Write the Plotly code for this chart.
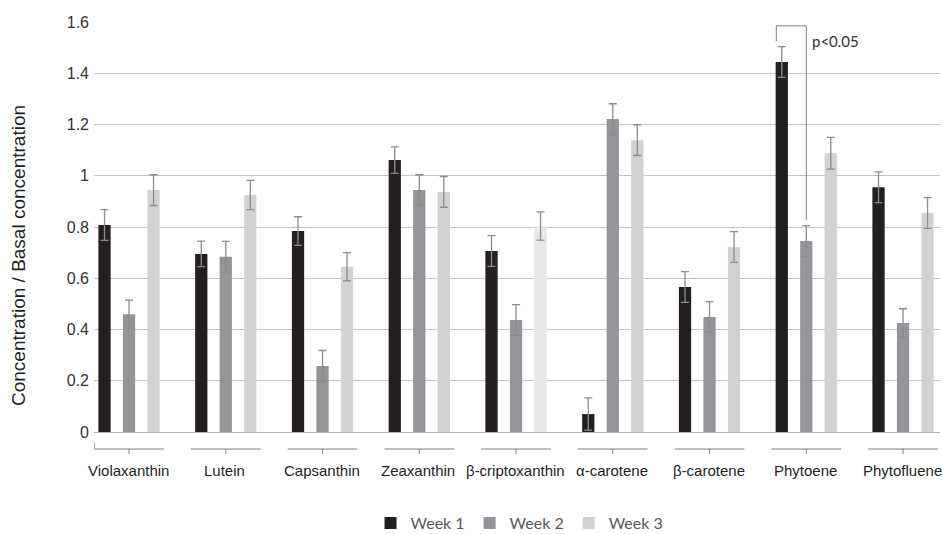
import plotly.graph_objects as go

# Carotenoid levels relative to basal concentration, three sampling weeks
compounds = ["Violaxanthin", "Lutein", "Capsanthin", "Zeaxanthin", "β-criptoxanthin",
             "α-carotene", "β-carotene", "Phytoene", "Phytofluene"]
week1 = [0.808, 0.695, 0.784, 1.061, 0.706, 0.070, 0.566, 1.444, 0.955]
week2 = [0.460, 0.684, 0.258, 0.944, 0.437, 1.221, 0.449, 0.745, 0.425]
week3 = [0.944, 0.925, 0.645, 0.937, 0.804, 1.139, 0.722, 1.088, 0.855]
err1 = [0.060, 0.050, 0.056, 0.052, 0.060, 0.063, 0.060, 0.060, 0.060]
err2 = [0.055, 0.060, 0.060, 0.060, 0.060, 0.060, 0.060, 0.060, 0.056]
err3 = [0.060, 0.057, 0.055, 0.060, 0.055, 0.060, 0.060, 0.062, 0.060]
week_names = ["Week 1", "Week 2", "Week 3"]
week3_colors = ["#d1d2d4", "#d1d2d4", "#d1d2d4", "#d1d2d4", "#e6e7e8",
                "#d1d2d4", "#d1d2d4", "#d1d2d4", "#d1d2d4"]

# significance marker between Week 1 and Week 2 of Phytoene
sig_compound = "Phytoene"
sig_text = "p<0.05"

AXIS_FONT = "Liberation Sans, Arial, sans-serif"
CAL_FONT = "Lato, Carlito, sans-serif"
ERR_COLOR = "#8c8c8c"

fig = go.Figure()
for name, vals, errs, color in [
    (week_names[0], week1, err1, "#231f20"),
    (week_names[1], week2, err2, "#939598"),
    (week_names[2], week3, err3, week3_colors),
]:
    fig.add_trace(go.Bar(
        x=compounds, y=vals, name=name,
        marker=dict(color=color, line=dict(width=0)),
        error_y=dict(type="data", array=errs, visible=True,
                     color=ERR_COLOR, thickness=1.3, width=4),
    ))

# category brackets under the axis
half = 0.36
y_line = -0.0415
y_tick = -0.0537
shapes = []
for i, c in enumerate(compounds):
    shapes.append(dict(type="line", xref="x", yref="paper", x0=i - half, x1=i + half,
                       y0=y_line, y1=y_line, line=dict(color="#7f7f7f", width=1)))
    shapes.append(dict(type="line", xref="x", yref="paper", x0=i, x1=i,
                       y0=y_line, y1=y_tick, line=dict(color="#7f7f7f", width=1)))
shapes.append(dict(type="line", xref="x", yref="paper", x0=-half, x1=-half,
                   y0=y_line, y1=-0.026, line=dict(color="#7f7f7f", width=1)))

# significance bracket
k = compounds.index(sig_compound)
left_leg = 0.31
b_top = 1.585
b_left = week1[k] + err1[k] + 0.02
b_right = week2[k] + err2[k] + 0.022
for (xa, ya, xb, yb) in [(k - left_leg, b_left, k - left_leg, b_top),
                         (k - left_leg, b_top, k, b_top),
                         (k, b_top, k, b_right)]:
    shapes.append(dict(type="line", xref="x", yref="y", x0=xa, y0=ya, x1=xb, y1=yb,
                       line=dict(color="#808080", width=1)))

annotations = [dict(x=c, y=-0.0927, xref="x", yref="paper", text=c, showarrow=False,
                    xanchor="center", yanchor="middle", xshift=-1,
                    font=dict(family=AXIS_FONT, size=15, color="#231f20"))
               for c in compounds]
annotations.append(dict(x=k, y=1.526, xref="x", yref="y", text=sig_text, showarrow=False,
                        xanchor="left", yanchor="middle", xshift=4,
                        font=dict(family=CAL_FONT, size=15, color="#333333")))
annotations.append(dict(x=(18 - 94) / 846, y=(432 - 256) / 410, xref="paper", yref="paper",
                        text="Concentration / Basal concentration", showarrow=False,
                        textangle=-90, xanchor="center", yanchor="middle",
                        font=dict(family=AXIS_FONT, size=19, color="#231f20")))

fig.update_layout(
    width=942, height=534,
    margin=dict(l=94, r=2, t=22, b=102, autoexpand=False),
    paper_bgcolor="white", plot_bgcolor="white",
    barmode="group", bargap=0.24, bargroupgap=0.5,
    shapes=shapes, annotations=annotations,
    legend=dict(orientation="h", x=0.503, xanchor="center", y=-0.222, yanchor="middle",
                font=dict(family=CAL_FONT, size=16, color="#595959"),
                itemwidth=30, traceorder="normal", borderwidth=0),
    xaxis=dict(type="category", categoryorder="array", categoryarray=compounds,
               range=[-0.362, 8.382], showticklabels=False, showgrid=False,
               showline=False, zeroline=False, ticks=""),
    yaxis=dict(range=[0, 1.6], dtick=0.2, tick0=0, showgrid=True,
               gridcolor="#c3c3c3", gridwidth=1, zeroline=True,
               zerolinecolor="#b0b0b0", zerolinewidth=1, showline=False,
               tickfont=dict(family=AXIS_FONT, size=16, color="#333333"),
               ticks="", ticklabelstandoff=4),
)

fig.write_html("out.html")
